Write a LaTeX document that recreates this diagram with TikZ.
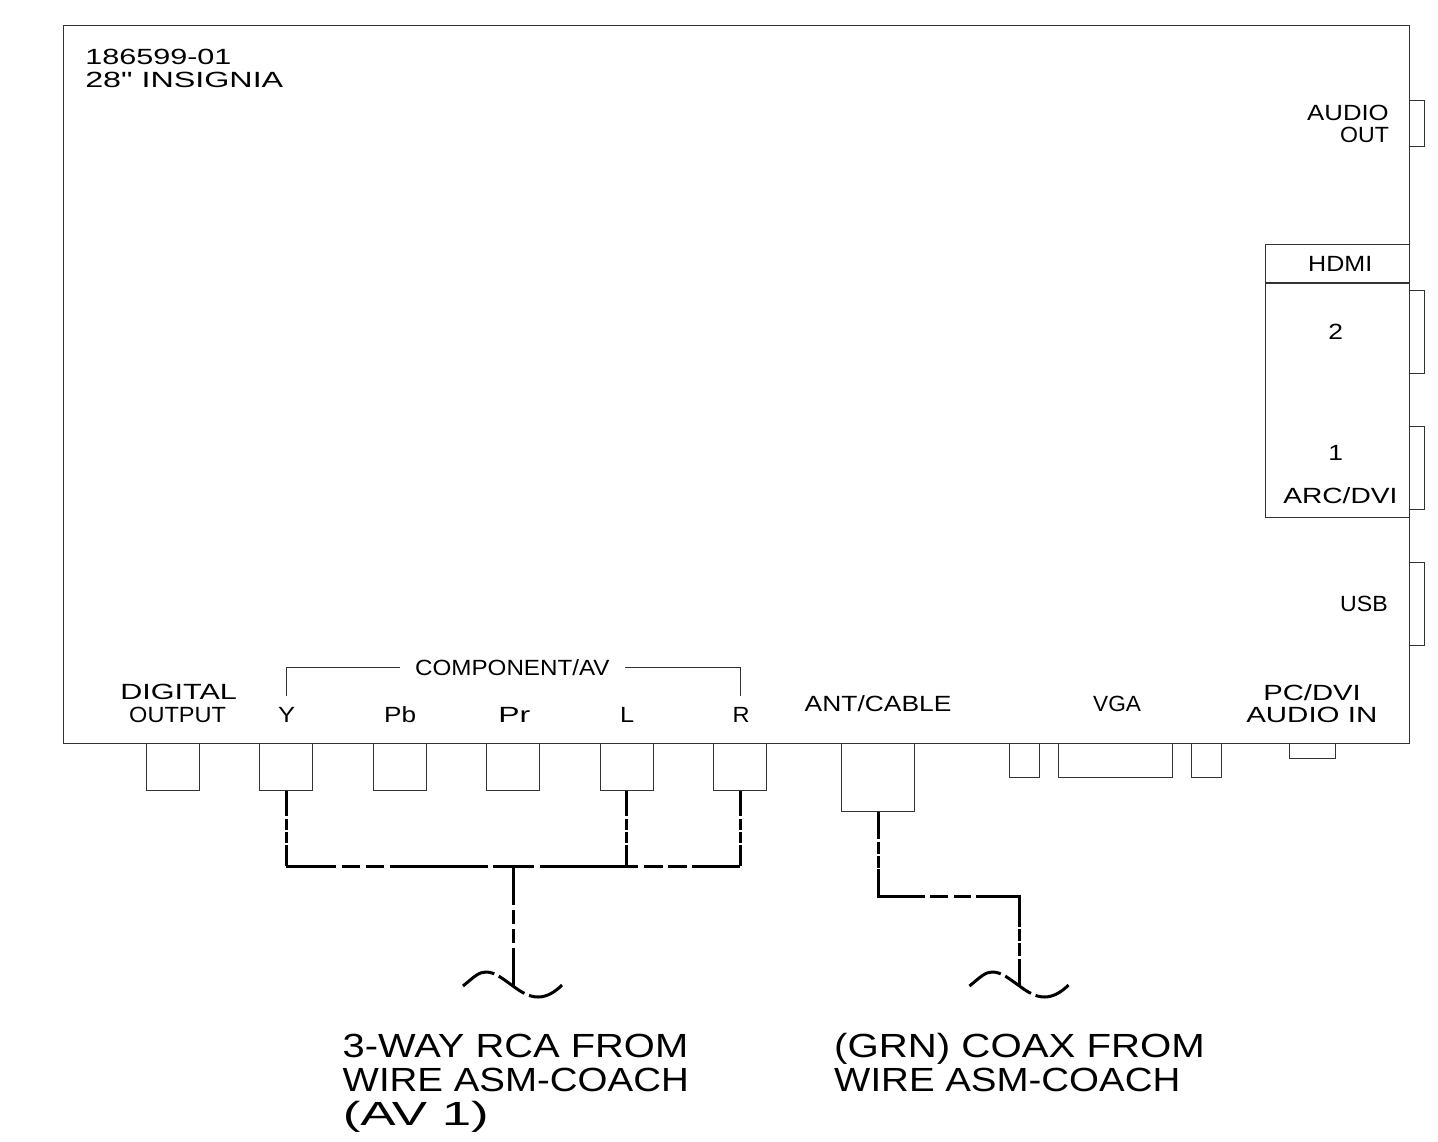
\documentclass[tikz,border=0pt]{standalone}
\usepackage{fontspec}
\newfontfamily\labfont{Liberation Sans}
\usepackage{tikz}
\usetikzlibrary{arrows.meta, positioning}
\tikzset{%
  outline/.style = {rectangle, draw = black!80, line width = 0.9pt, inner sep = 0pt},
  board/.style = {outline, anchor = north west, minimum width = 1346pt, minimum height = 718pt},
  rca/.style = {outline, anchor = north, minimum width = 53pt, minimum height = 47pt},
  sidejack/.style = {outline, anchor = north west, minimum width = 15pt},
  lab/.style = {anchor = base west, inner sep = 0pt, transform shape, xscale = #1, font = \labfont\fontsize{22}{22}\selectfont},
  biglab/.style = {lab = #1, font = \labfont\fontsize{33.5}{33.5}\selectfont},
  wire/.style = {line width = 3pt, line join = miter},
  drop/.style = {wire, dash pattern = on 25pt off 3pt on 11pt off 2pt on 11pt off 2pt on 40pt},
  trunk/.style = {wire, dash pattern = on 50pt off 6pt on 18pt off 6pt on 18pt off 6pt on 98pt off 5pt on 41pt off 6pt on 98pt off 6pt on 19pt off 5pt on 19pt off 5pt on 60pt},
  stem/.style = {wire, dash pattern = on 39pt off 5pt on 14pt off 5pt on 14pt off 5pt on 60pt},
  coaxrun/.style = {wire, dash pattern = on 27pt off 3pt on 12pt off 2pt on 12pt off 1pt on 74pt off 5pt on 18pt off 6pt on 17pt off 5pt on 75pt off 2pt on 12pt off 2pt on 13pt off 3pt on 40pt},
  cut/.style = {line width = 3pt, dash pattern = on 36pt off 5pt on 31pt off 5pt on 60pt}
}
\begin{document}
\begin{tikzpicture}[x=1pt, y=-1pt]
    \useasboundingbox (0,0) rectangle (1438,1141);
    \node[board] at (63,25) (Board) {};
    % jacks along the bottom
    \node[rca] at (173,743) (JackDigital) {};
    \node[rca] at (286,743) (JackY) {};
    \node[rca] at (399.5,743) (JackPb) {};
    \node[rca] at (513,743) (JackPr) {};
    \node[rca] at (626.5,743) (JackL) {};
    \node[rca] at (740,743) (JackR) {};
    \node[rca, minimum width = 73pt, minimum height = 68pt] at (878,743) (JackAnt) {};
    \node[rca, minimum width = 30pt, minimum height = 34pt] at (1024,743) (VgaLeft) {};
    \node[rca, minimum width = 114pt, minimum height = 34pt] at (1115,743) (VgaPort) {};
    \node[rca, minimum width = 30pt, minimum height = 34pt] at (1206,743) (VgaRight) {};
    \node[rca, minimum width = 46pt, minimum height = 15pt] at (1312,743) (JackPc) {};
    % jacks along the right side
    \node[sidejack, minimum height = 46pt] at (1409,100) (JackAudio) {};
    \node[sidejack, minimum height = 83pt] at (1409,289.5) (JackHdmiTwo) {};
    \node[sidejack, minimum height = 83pt] at (1409,425.5) (JackHdmiOne) {};
    \node[sidejack, minimum height = 83pt] at (1409,562) (JackUsb) {};
    \node[outline, anchor = north west, minimum width = 144pt, minimum height = 38pt] at (1265,244) (HdmiHead) {};
    \node[outline, anchor = north, minimum width = 144pt, minimum height = 234.5pt] at (HdmiHead.south) (HdmiBody) {};
    % labels
    \node[lab = 1.39] at (85,64) (PartNo) {186599-01};
    \node[lab = 1.467] at (85,87) (Model) {28" INSIGNIA};
    \node[lab = 1.17] at (1307,120) (AudioLabel) {AUDIO};
    \node[lab = 1.05] at (1340,142) (OutLabel) {OUT};
    \node[lab = 1.14] at (1308,271) (HdmiLabel) {HDMI};
    \node[lab = 1.2] at (1328,339) (TwoLabel) {2};
    \node[lab = 1.2] at (1328,460) (OneLabel) {1};
    \node[lab = 1.28] at (1283,503) (ArcLabel) {ARC/DVI};
    \node[lab = 1.05] at (1340,611) (UsbLabel) {USB};
    \node[lab = 1.39] at (120,699) (DigitalLabel) {DIGITAL};
    \node[lab = 1.07] at (129,722) (OutputLabel) {OUTPUT};
    \node[lab = 1.1, inner xsep = 13.5pt] at (400,675) (ComponentLabel) {COMPONENT/AV};
    \node[lab = 1.16] at (278,722) (YLabel) {Y};
    \node[lab = 1.19] at (384,722) (PbLabel) {Pb};
    \node[lab = 1.45] at (498,722) (PrLabel) {Pr};
    \node[lab = 1.15] at (620,722) (LLabel) {L};
    \node[lab = 1.07] at (732.5,722) (RLabel) {R};
    \node[lab = 1.2] at (804.5,711) (AntLabel) {ANT/CABLE};
    \node[lab = 1.03] at (1093,711) (VgaLabel) {VGA};
    \node[lab = 1.33] at (1263,700) (PcLabel) {PC/DVI};
    \node[lab = 1.34] at (1246,722) (AudioInLabel) {AUDIO IN};
    \node[biglab = 1.19] at (342.5,1057) (RcaOne) {3-WAY RCA FROM};
    \node[biglab = 1.148] at (342.5,1091) (RcaTwo) {WIRE ASM-COACH};
    \node[biglab = 1.58] at (342.5,1125) (RcaThree) {(AV 1)};
    \node[biglab = 1.20] at (834,1057) (CoaxOne) {(GRN) COAX FROM};
    \node[biglab = 1.148] at (834,1091) (CoaxTwo) {WIRE ASM-COACH};
    % bracket over the component jacks
    \coordinate (BracketL) at (286,696);
    \coordinate (BracketR) at (740,696);
    \draw[draw = black!80, line width = 0.9pt] (BracketL) |- (ComponentLabel.west);
    \draw[draw = black!80, line width = 0.9pt] (BracketR) |- (ComponentLabel.east);
    % cables
    \coordinate (TrunkL) at (286,866);
    \coordinate (TrunkR) at (740,866);
    \coordinate (TipRca) at (513,986);
    \coordinate (BendAnt) at (878,896);
    \coordinate (BendCoax) at (1019.5,896);
    \coordinate (TipCoax) at (1019.5,986);
    \draw[drop] (JackY.south) -- (TrunkL);
    \draw[drop] (JackL.south) -- (JackL.south |- TrunkL);
    \draw[drop] (JackR.south) -- (TrunkR);
    \draw[trunk] (TrunkL) -- (TrunkR);
    \draw[stem] (TipRca |- TrunkL) -- (TipRca);
    \draw[coaxrun] (JackAnt.south) -- (BendAnt) -- (BendCoax) -- (TipCoax);
    \foreach \tip in {TipRca, TipCoax} {
      \draw[cut] ([shift={(-50,0)}]\tip)
        .. controls ([shift={(-38,-10)}]\tip) and ([shift={(-34,-14)}]\tip) .. ([shift={(-27,-14)}]\tip)
        .. controls ([shift={(-18,-14)}]\tip) and ([shift={(-10,-7)}]\tip) .. (\tip)
        .. controls ([shift={(8,6)}]\tip) and ([shift={(16,11)}]\tip) .. ([shift={(25,11)}]\tip)
        .. controls ([shift={(34,11)}]\tip) and ([shift={(42,6)}]\tip) .. ([shift={(49,-1)}]\tip);
    }
\end{tikzpicture}
\end{document}
